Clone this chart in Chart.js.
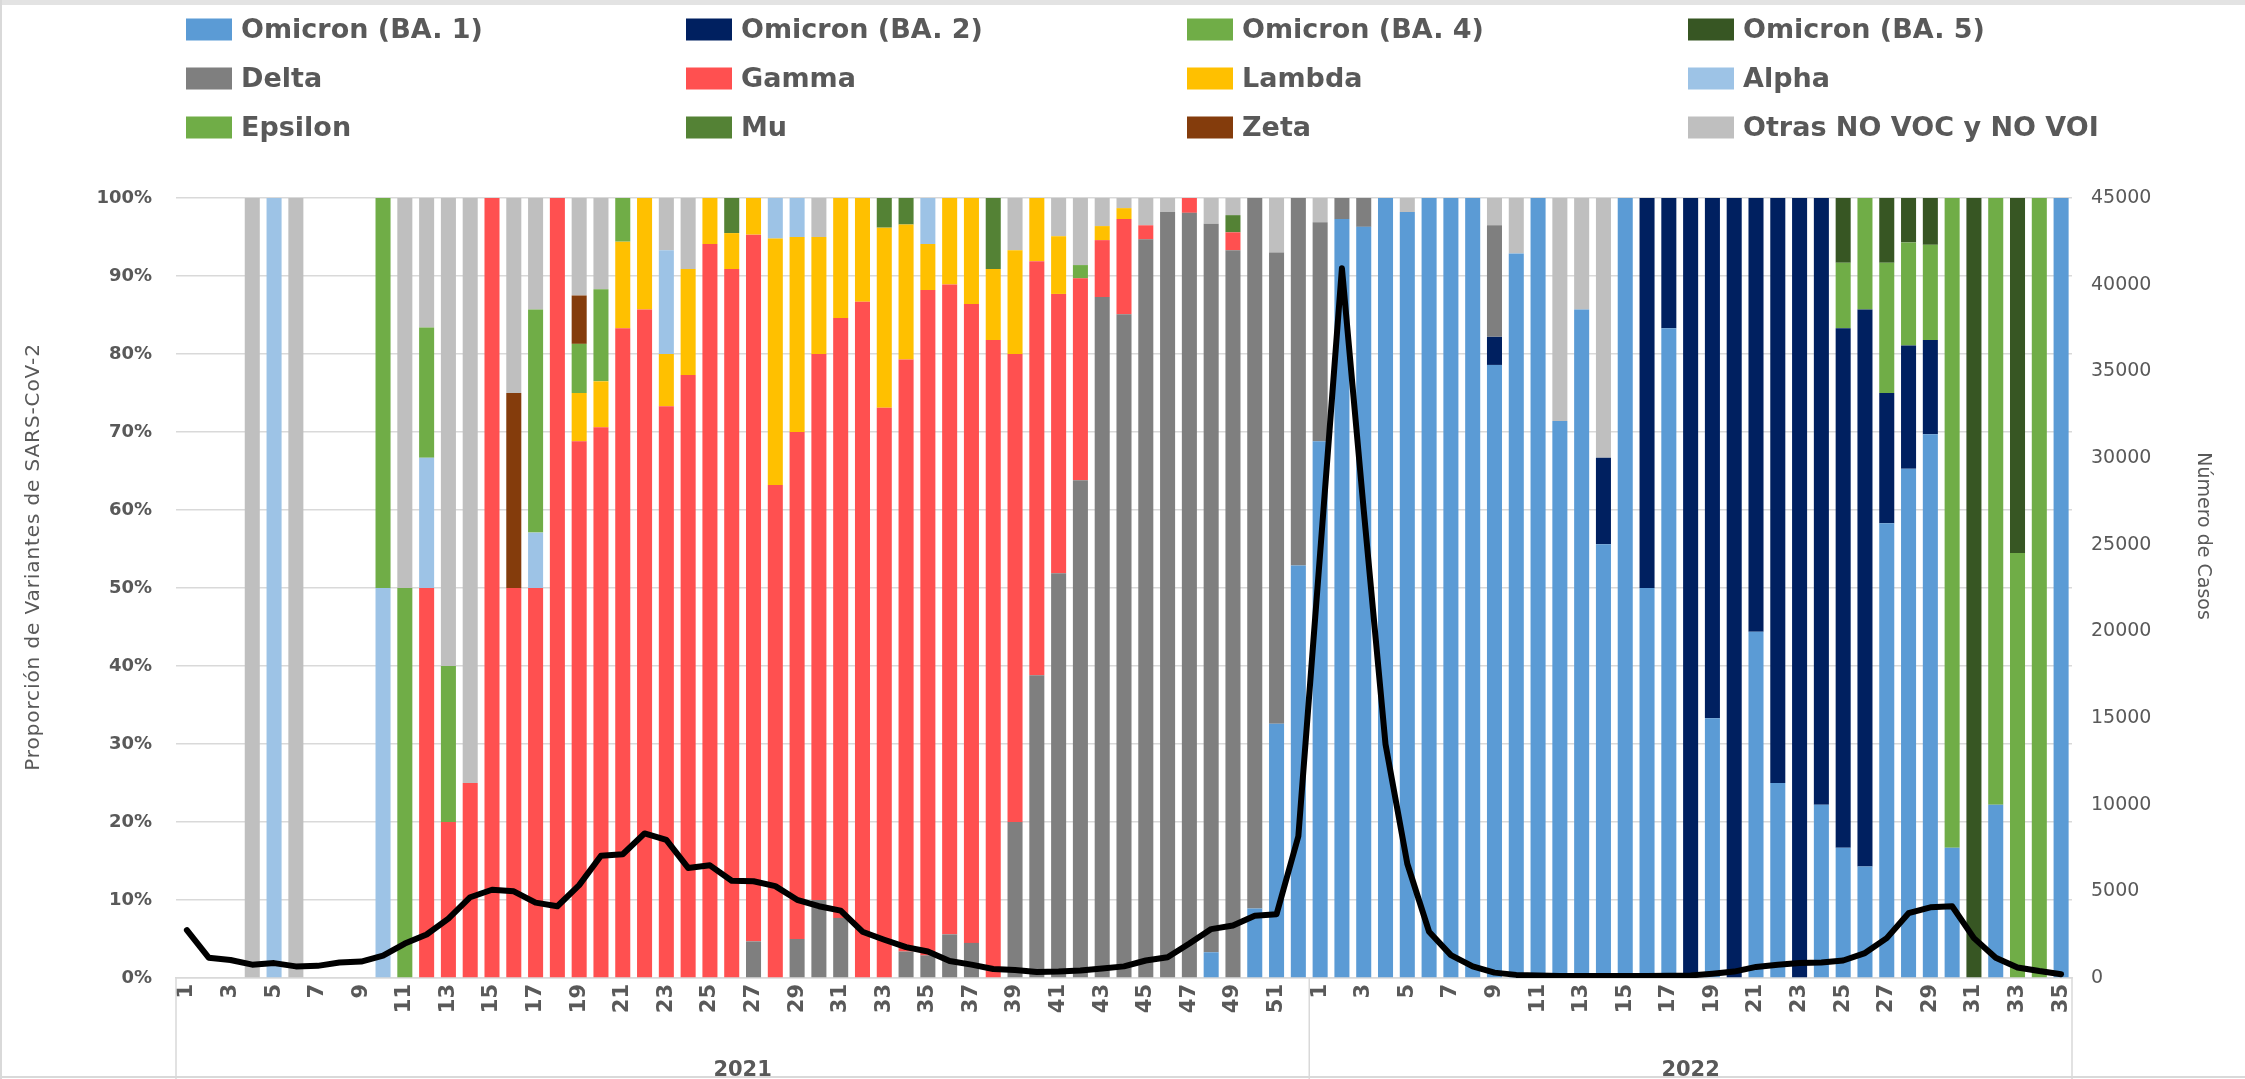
<!DOCTYPE html>
<html>
<head>
<meta charset="utf-8">
<script src="https://cdn.jsdelivr.net/npm/chart.js"></script>
<style>
html,body{margin:0;padding:0;background:#fff;}
#wrap{width:2245px;height:1079px;position:relative;overflow:hidden;}
canvas{display:block;}
</style>
</head>
<body>
<div id="wrap"><canvas id="c" width="2245" height="1079"></canvas></div>
<script>
// ---------- DATA ----------
const weeks2021 = [1,2,3,4,5,6,7,8,9,10,11,12,13,14,15,16,17,18,19,20,21,22,23,24,25,26,27,28,29,30,31,32,33,34,35,36,37,38,39,40,41,42,43,44,45,46,47,48,49,50,51,52];
const weeks2022 = [1,2,3,4,5,6,7,8,9,10,11,12,13,14,15,16,17,18,19,20,21,22,23,24,25,26,27,28,29,30,31,32,33,34,35];
const years = ['2021', '2022'];

const yLeftTicks = [0,10,20,30,40,50,60,70,80,90,100];
const yRightTicks = [0,5000,10000,15000,20000,25000,30000,35000,40000,45000];

const seriesNames = ['Omicron (BA. 1)','Omicron (BA. 2)','Omicron (BA. 4)','Omicron (BA. 5)','Delta','Gamma','Lambda','Alpha','Epsilon','Mu','Zeta','Otras NO VOC y NO VOI'];
const seriesColors = ['#5B9BD5','#002060','#70AD47','#375623','#7F7F7F','#FF5050','#FFC000','#9DC3E6','#70AD47','#548235','#843C0C','#BFBFBF'];

const omicronBA1 = [
 0,0,0,0,0,0,0,0,0,0,
 0,0,0,0,0,0,0,0,0,0,
 0,0,0,0,0,0,0,0,0,0,
 0,0,0,0,0,0,0,0,0,0,
 0,0,0,0,0,0,0,3.3,0,8.9,
 32.6,52.9,68.8,97.3,96.3,100,98.2,100,100,100,
 78.6,92.9,100,71.4,85.7,55.6,100,50,83.3,0,
 33.3,0,44.4,25,0,22.2,16.7,14.3,58.3,65.3,
 69.7,16.7,0,22.2,0,0,100];
const omicronBA2 = [
 0,0,0,0,0,0,0,0,0,0,
 0,0,0,0,0,0,0,0,0,0,
 0,0,0,0,0,0,0,0,0,0,
 0,0,0,0,0,0,0,0,0,0,
 0,0,0,0,0,0,0,0,0,0,
 0,0,0,0,0,0,0,0,0,0,
 3.6,0,0,0,0,11.1,0,50,16.7,100,
 66.7,100,55.6,75,100,77.8,66.6,71.4,16.7,15.8,
 12.1,0,0,0,0,0,0];
const omicronBA4 = [
 0,0,0,0,0,0,0,0,0,0,
 0,0,0,0,0,0,0,0,0,0,
 0,0,0,0,0,0,0,0,0,0,
 0,0,0,0,0,0,0,0,0,0,
 0,0,0,0,0,0,0,0,0,0,
 0,0,0,0,0,0,0,0,0,0,
 0,0,0,0,0,0,0,0,0,0,
 0,0,0,0,0,0,8.4,14.3,16.7,13.2,
 12.2,83.3,0,77.8,54.5,100,0];
const omicronBA5 = [
 0,0,0,0,0,0,0,0,0,0,
 0,0,0,0,0,0,0,0,0,0,
 0,0,0,0,0,0,0,0,0,0,
 0,0,0,0,0,0,0,0,0,0,
 0,0,0,0,0,0,0,0,0,0,
 0,0,0,0,0,0,0,0,0,0,
 0,0,0,0,0,0,0,0,0,0,
 0,0,0,0,0,0,8.3,0,8.3,5.7,
 6,0,100,0,45.5,0,0];
const delta = [
 0,0,0,0,0,0,0,0,0,0,
 0,0,0,0,0,0,0,0,0,0,
 0,0,0,0,0,0,4.7,0,5,10,
 7.7,0,0,3.4,2.9,5.6,4.5,0,20,38.8,
 51.9,63.8,87.3,85.1,94.7,98.2,98.1,93.4,93.3,91.1,
 60.4,47.1,28.1,2.7,3.7,0,0,0,0,0,
 14.3,0,0,0,0,0,0,0,0,0,
 0,0,0,0,0,0,0,0,0,0,
 0,0,0,0,0,0,0];
const gamma = [
 0,0,0,0,0,0,0,0,0,0,
 0,50,20,25,100,50,50,100,68.8,70.6,
 83.3,85.7,73.3,77.3,94.1,90.9,90.6,63.2,65,70,
 76.9,86.7,73.1,75.9,85.3,83.3,81.9,81.8,60,53.1,
 35.8,25.9,7.3,12.2,1.8,0,1.9,0,2.3,0,
 0,0,0,0,0,0,0,0,0,0,
 0,0,0,0,0,0,0,0,0,0,
 0,0,0,0,0,0,0,0,0,0,
 0,0,0,0,0,0,0];
const lambda = [
 0,0,0,0,0,0,0,0,0,0,
 0,0,0,0,0,0,0,0,6.2,5.9,
 11.1,14.3,6.7,13.6,5.9,4.6,4.7,31.6,25,15,
 15.4,13.3,23.1,17.3,5.9,11.1,13.6,9.1,13.3,8.1,
 7.4,0,1.8,1.4,0,0,0,0,0,0,
 0,0,0,0,0,0,0,0,0,0,
 0,0,0,0,0,0,0,0,0,0,
 0,0,0,0,0,0,0,0,0,0,
 0,0,0,0,0,0,0];
const alpha = [
 0,0,0,0,100,0,0,0,0,50,
 0,16.7,0,0,0,0,7.1,0,0,0,
 0,0,13.3,0,0,0,0,5.2,5,0,
 0,0,0,0,5.9,0,0,0,0,0,
 0,0,0,0,0,0,0,0,0,0,
 0,0,0,0,0,0,0,0,0,0,
 0,0,0,0,0,0,0,0,0,0,
 0,0,0,0,0,0,0,0,0,0,
 0,0,0,0,0,0,0];
const epsilon = [
 0,0,0,0,0,0,0,0,0,50,
 50,16.7,20,0,0,0,28.6,0,6.3,11.8,
 5.6,0,0,0,0,0,0,0,0,0,
 0,0,0,0,0,0,0,0,0,0,
 0,1.7,0,0,0,0,0,0,0,0,
 0,0,0,0,0,0,0,0,0,0,
 0,0,0,0,0,0,0,0,0,0,
 0,0,0,0,0,0,0,0,0,0,
 0,0,0,0,0,0,0];
const mu = [
 0,0,0,0,0,0,0,0,0,0,
 0,0,0,0,0,0,0,0,0,0,
 0,0,0,0,0,4.5,0,0,0,0,
 0,0,3.8,3.4,0,0,0,9.1,0,0,
 0,0,0,0,0,0,0,0,2.2,0,
 0,0,0,0,0,0,0,0,0,0,
 0,0,0,0,0,0,0,0,0,0,
 0,0,0,0,0,0,0,0,0,0,
 0,0,0,0,0,0,0];
const zeta = [
 0,0,0,0,0,0,0,0,0,0,
 0,0,0,0,0,25,0,0,6.2,0,
 0,0,0,0,0,0,0,0,0,0,
 0,0,0,0,0,0,0,0,0,0,
 0,0,0,0,0,0,0,0,0,0,
 0,0,0,0,0,0,0,0,0,0,
 0,0,0,0,0,0,0,0,0,0,
 0,0,0,0,0,0,0,0,0,0,
 0,0,0,0,0,0,0];
const otras = [
 0,0,0,100,0,100,0,0,0,0,
 50,16.6,60,75,0,25,14.3,0,12.5,11.7,
 0,0,6.7,9.1,0,0,0,0,0,5,
 0,0,0,0,0,0,0,0,6.7,0,
 4.9,8.6,3.6,1.3,3.5,1.8,0,3.3,2.2,0,
 7,0,3.1,0,0,0,1.8,0,0,0,
 3.5,7.1,0,28.6,14.3,33.3,0,0,0,0,
 0,0,0,0,0,0,0,0,0,0,
 0,0,0,0,0,0,0];
const casos = [
 2760,1170,1040,770,860,670,700,890,950,1290,
 1990,2510,3430,4660,5090,5000,4350,4140,5360,7050,
 7140,8340,7970,6350,6500,5610,5580,5300,4510,4140,
 3890,2670,2210,1780,1530,980,770,520,460,340,
 370,430,550,670,1010,1200,1990,2820,3030,3590,
 3680,8180,24500,40950,27000,13490,6590,2670,1320,670,
 310,180,150,120,110,110,110,120,130,150,
 250,370,640,770,860,890,1010,1440,2300,3740,
 4080,4140,2300,1170,610,400,220];

const leftTitle = 'Proporción de Variantes de SARS-CoV-2';
const rightTitle = 'Número de Casos';

// ---------- BUILD ----------
const labels = weeks2021.concat(weeks2022).map(String);
const seriesValues = [omicronBA1, omicronBA2, omicronBA4, omicronBA5, delta, gamma, lambda, alpha, epsilon, mu, zeta, otras];

const FONT = "'DejaVu Sans', 'Open Sans', sans-serif";
const TXT = '#595959';
const GRID = '#D9D9D9';

const barSets = seriesValues.map((vals, k) => ({
  type: 'bar',
  label: seriesNames[k],
  data: vals,
  backgroundColor: seriesColors[k],
  borderWidth: 0,
  yAxisID: 'y',
  stack: 'v',
  order: 1,
  categoryPercentage: 1.0,
  barPercentage: 0.69
}));

const lineSet = {
  type: 'line',
  label: rightTitle,
  data: casos,
  borderColor: '#000000',
  backgroundColor: '#000000',
  borderWidth: 6,
  pointRadius: 0,
  tension: 0,
  borderJoinStyle: 'round',
  borderCapStyle: 'round',
  yAxisID: 'y2',
  order: 0
};

const decor = {
  id: 'decor',
  afterDraw(chart) {
    const ctx = chart.ctx;
    const ca = chart.chartArea;
    const xs = chart.scales.x;
    ctx.save();
    // outer frame
    ctx.fillStyle = '#E3E3E3';
    ctx.fillRect(0, 0, chart.width, 5);
    ctx.strokeStyle = GRID;
    ctx.lineWidth = 2;
    ctx.beginPath();
    ctx.moveTo(1, 0); ctx.lineTo(1, chart.height);
    ctx.moveTo(0, chart.height - 2); ctx.lineTo(chart.width, chart.height - 2);
    ctx.stroke();
    // group separators under the category axis
    const half = (xs.getPixelForValue(1) - xs.getPixelForValue(0)) / 2;
    const sepXs = [ca.left, xs.getPixelForValue(weeks2021.length - 1) + half, ca.right];
    ctx.lineWidth = 1.5;
    sepXs.forEach(px => {
      ctx.beginPath();
      ctx.moveTo(px, ca.bottom);
      ctx.lineTo(px, chart.height);
      ctx.stroke();
    });
    // year labels
    ctx.fillStyle = TXT;
    ctx.font = 'bold 21px ' + FONT;
    ctx.textAlign = 'center';
    ctx.textBaseline = 'top';
    ctx.fillText(years[0], (sepXs[0] + sepXs[1]) / 2, 1060);
    ctx.fillText(years[1], (sepXs[1] + sepXs[2]) / 2, 1060);
    // axis titles
    ctx.textBaseline = 'middle';
    ctx.save();
    ctx.font = '20px ' + FONT;
    try { ctx.letterSpacing = '0.9px'; } catch (e) {}
    ctx.translate(34, 557); ctx.rotate(-Math.PI / 2); ctx.fillText(leftTitle, 0, 0);
    ctx.restore();
    ctx.save();
    ctx.font = '19px ' + FONT;
    ctx.translate(2203, 536); ctx.rotate(Math.PI / 2); ctx.fillText(rightTitle, 0, 0);
    ctx.restore();
    // legend grid (4 columns x 3 rows)
    const colX = [186, 686, 1187, 1688];
    const rowY = [29.5, 78.5, 127.5];
    ctx.font = 'bold 27px ' + FONT;
    ctx.textAlign = 'left';
    ctx.textBaseline = 'middle';
    chart.data.datasets.forEach((ds, k) => {
      if (ds.type !== 'bar') return;
      const c = k % 4, r = Math.floor(k / 4);
      ctx.fillStyle = ds.backgroundColor;
      ctx.fillRect(colX[c], rowY[r] - 11, 46, 22);
      ctx.fillStyle = TXT;
      ctx.fillText(ds.label, colX[c] + 55, rowY[r] + 1);
    });
    ctx.restore();
  }
};

new Chart(document.getElementById('c'), {
  type: 'bar',
  data: { labels: labels, datasets: barSets.concat([lineSet]) },
  options: {
    responsive: false,
    animation: false,
    devicePixelRatio: 1,
    layout: { padding: { top: 198, left: 0, right: 0, bottom: 0 } },
    plugins: { legend: { display: false }, tooltip: { enabled: false } },
    scales: {
      x: {
        stacked: true,
        grid: { display: false, drawTicks: false },
        border: { display: true, color: GRID, width: 1.5 },
        ticks: {
          autoSkip: false, maxRotation: 90, minRotation: 90, padding: 6,
          color: TXT, font: { family: FONT, size: 21, weight: 'bold' },
          callback: function(v, i) { const w = labels[i]; return (Number(w) % 2 === 1) ? w : ''; }
        },
        afterFit(s) { s.height = 101; }
      },
      y: {
        stacked: true, position: 'left',
        min: yLeftTicks[0], max: yLeftTicks[yLeftTicks.length - 1],
        afterBuildTicks(s) { s.ticks = yLeftTicks.map(v => ({ value: v })); },
        ticks: { callback: v => v + '%', color: TXT, font: { family: FONT, size: 18, weight: 'bold' }, padding: 24 },
        grid: { color: GRID, lineWidth: 1.5, drawTicks: false },
        border: { display: false },
        afterFit(s) { s.width = 176; }
      },
      y2: {
        position: 'right',
        min: yRightTicks[0], max: yRightTicks[yRightTicks.length - 1],
        afterBuildTicks(s) { s.ticks = yRightTicks.map(v => ({ value: v })); },
        ticks: { callback: v => String(v), color: TXT, font: { family: FONT, size: 19 }, padding: 19 },
        grid: { display: false, drawTicks: false },
        border: { display: false },
        afterFit(s) { s.width = 173; }
      }
    }
  },
  plugins: [decor]
});
</script>
</body>
</html>
